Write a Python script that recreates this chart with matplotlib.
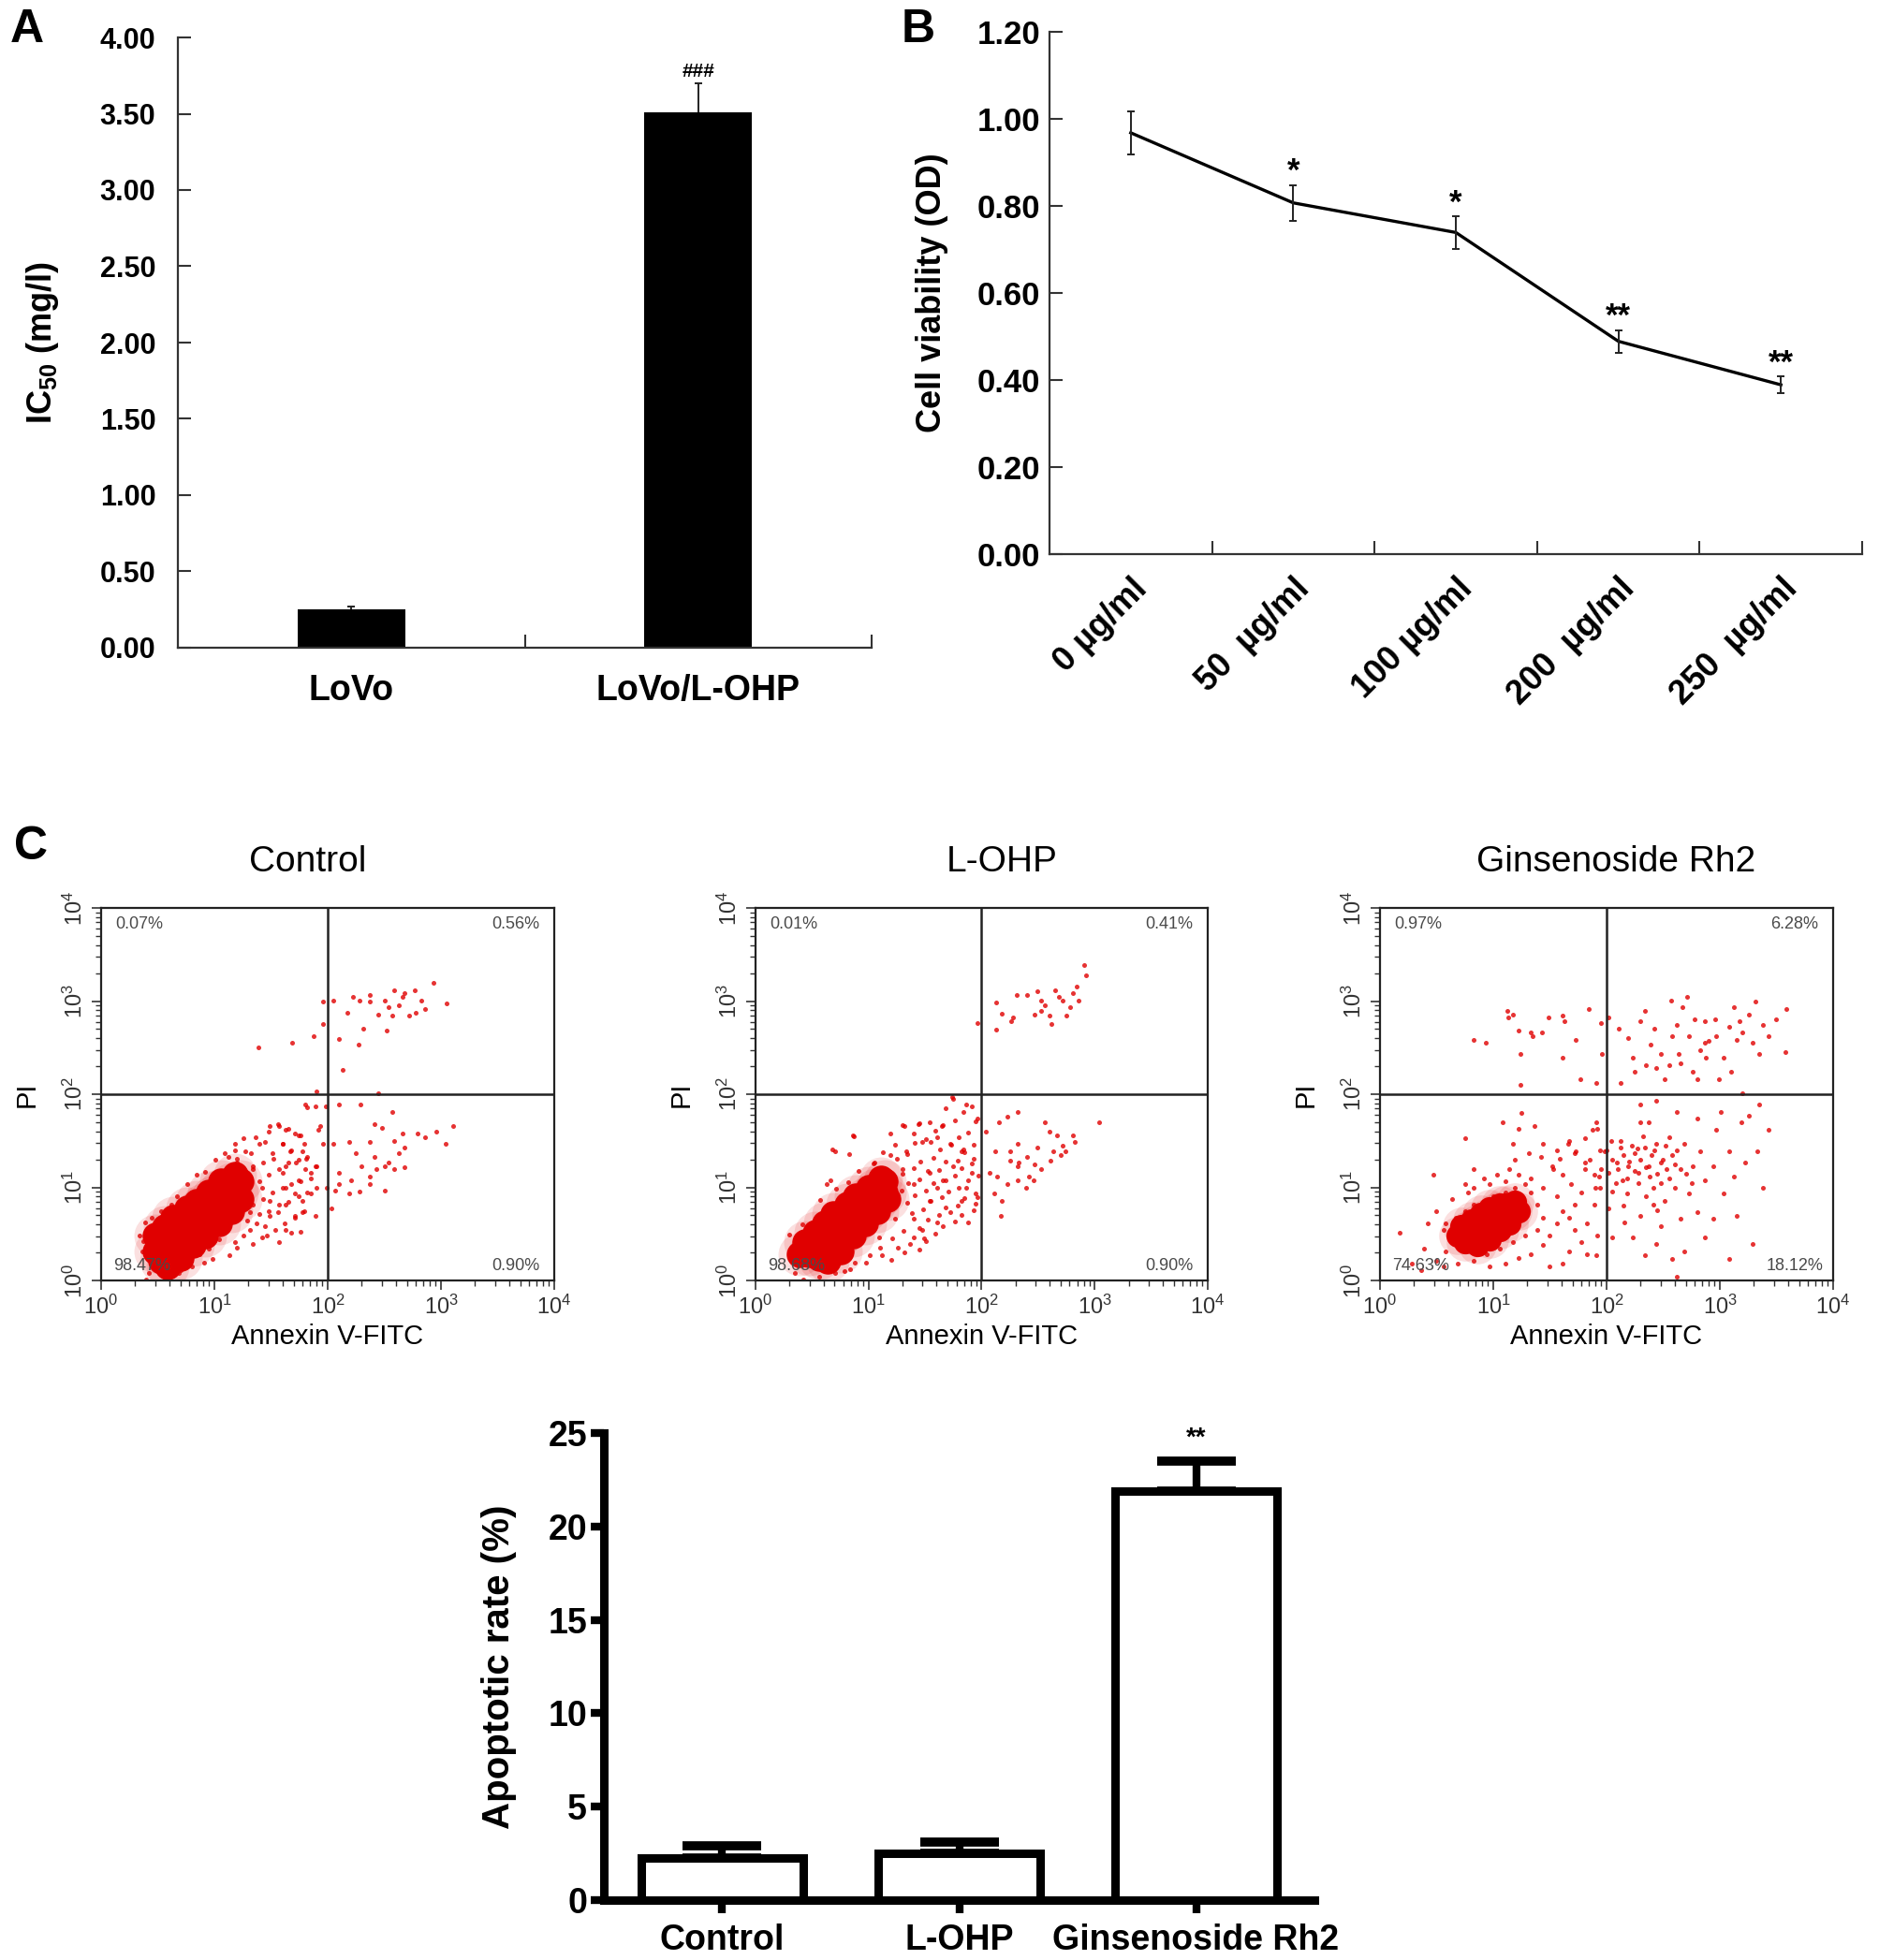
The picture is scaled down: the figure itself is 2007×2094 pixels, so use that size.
import matplotlib
matplotlib.use("Agg")
import matplotlib.pyplot as plt
import numpy as np
from matplotlib import font_manager

plt.rcParams["font.family"] = ["Liberation Sans", "DejaVu Sans"]
plt.rcParams["mathtext.fontset"] = "custom"
plt.rcParams["mathtext.rm"] = "Liberation Sans"
plt.rcParams["mathtext.bf"] = "Liberation Sans:bold"
plt.rcParams["mathtext.it"] = "Liberation Sans:italic"

installed = {f.name for f in font_manager.fontManager.ttflist}
NARROW = "Liberation Sans Narrow" if "Liberation Sans Narrow" in installed else "Liberation Sans"

# ---- panel A: IC50
ic50_groups = ["LoVo", "LoVo/L-OHP"]
ic50_mean = [0.25, 3.51]
ic50_err = [0.02, 0.19]
ic50_marks = ["", "###"]

# ---- panel B: cell viability
dose_labels = ["0 µg/ml", "50  µg/ml", "100 µg/ml", "200  µg/ml", "250  µg/ml"]
viability = [0.968, 0.807, 0.739, 0.489, 0.389]
viability_err = [0.050, 0.041, 0.037, 0.026, 0.019]
viability_marks = ["", "*", "*", "**", "**"]

# ---- panel C: flow cytometry, events as log10 of intensity (Annexin V-FITC, PI)
flow_titles = ["Control", "L-OHP", "Ginsenoside Rh2"]
flow_pcts = [["0.07%", "0.56%", "98.47%", "0.90%"],
             ["0.01%", "0.41%", "98.68%", "0.90%"],
             ["0.97%", "6.28%", "74.63%", "18.12%"]]

# dense (saturated) part of each population
ctrl_core = [(0.48, 0.31), (0.56, 0.41), (0.64, 0.51), (0.73, 0.61), (0.81, 0.71), (0.90, 0.81),
             (0.98, 0.89), (1.06, 0.97), (1.15, 1.04), (1.23, 1.07), (0.53, 0.21), (0.62, 0.31),
             (0.70, 0.41), (0.78, 0.51), (0.87, 0.61), (0.95, 0.71), (1.04, 0.81), (1.12, 0.87),
             (1.20, 0.94), (0.48, 0.48), (0.56, 0.57), (0.64, 0.67), (0.76, 0.77), (0.84, 0.84),
             (0.95, 0.94), (1.06, 1.07), (1.18, 1.14), (0.59, 0.15), (0.70, 0.24), (0.81, 0.38),
             (0.92, 0.48), (1.04, 0.61), (1.15, 0.74), (1.23, 0.87)]
ctrl_dots = [(1.96, 2.99), (2.05, 3.01), (2.17, 2.87), (2.22, 3.05), (2.28, 3.01), (2.37, 3.07),
             (2.37, 2.99), (2.50, 3.01), (2.54, 2.93), (2.59, 3.12), (2.66, 3.05), (2.68, 3.09),
             (2.72, 2.84), (2.77, 3.12), (2.78, 2.87), (2.83, 3.01), (2.86, 2.91), (2.93, 3.20),
             (3.05, 2.97), (2.63, 2.95), (2.57, 2.84), (2.45, 2.85), (2.31, 2.70), (2.27, 2.53),
             (2.52, 2.68), (2.10, 2.59), (2.13, 2.26), (1.96, 2.75), (1.88, 2.62), (1.69, 2.55),
             (1.39, 2.50),
             (1.80, 1.89), (1.89, 1.87), (1.98, 1.87), (2.10, 1.89), (2.29, 1.89), (2.45, 2.01),
             (2.57, 1.81), (2.41, 1.68), (2.48, 1.64), (3.11, 1.66), (2.96, 1.60), (3.04, 1.47),
             (2.86, 1.54), (2.79, 1.58), (2.66, 1.58), (2.59, 1.50), (2.68, 1.43), (2.63, 1.37),
             (2.54, 1.27), (2.50, 1.23), (2.59, 1.20), (2.68, 1.22), (2.41, 1.33), (2.43, 1.20),
             (2.37, 1.12), (2.30, 1.23), (2.21, 1.08), (2.10, 1.04), (2.19, 0.93), (2.07, 0.96),
             (2.03, 0.77), (2.28, 0.95), (2.50, 0.96), (2.37, 1.04), (2.05, 1.47), (2.19, 1.49),
             (1.89, 1.23), (1.92, 1.62), (1.99, 1.00), (2.10, 1.16), (2.25, 1.37), (2.37, 1.49),
             (1.81, 1.31), (1.89, 0.69),
             (1.49, 1.66), (1.56, 1.68), (1.63, 1.62), (1.71, 1.58), (1.76, 1.56), (1.36, 1.54),
             (1.45, 1.49), (1.60, 1.47), (1.67, 1.39), (1.78, 1.39), (1.72, 1.27), (1.63, 1.23),
             (1.60, 1.16), (1.80, 1.20), (1.85, 1.16), (1.74, 1.08), (1.63, 1.00), (1.71, 0.93),
             (1.85, 0.93), (1.78, 0.85), (1.63, 0.81), (1.56, 0.73), (1.71, 0.69), (1.78, 0.73),
             (1.63, 0.54), (1.76, 0.52), (1.45, 0.58), (1.42, 0.46), (1.31, 0.54), (1.34, 0.39),
             (1.20, 0.35), (1.13, 0.27), (0.98, 0.23), (0.91, 0.19), (0.80, 0.15), (0.69, 0.08),
             (0.55, 0.04), (0.40, 0.01), (0.39, 0.62), (0.44, 0.50), (0.37, 0.42), (1.42, 1.00),
             (1.49, 0.85), (1.27, 1.39), (1.20, 1.31), (1.13, 1.23), (1.34, 1.23), (1.52, 1.31),
             (1.31, 0.73), (1.49, 0.69),
             (1.32, 1.37), (1.40, 1.47), (1.48, 1.60), (1.57, 1.66), (1.65, 1.63), (1.74, 1.56),
             (1.79, 1.47), (1.68, 1.40), (1.60, 1.47), (1.51, 1.37), (1.43, 1.27), (1.34, 1.20),
             (1.40, 1.07), (1.48, 1.14), (1.57, 1.20), (1.65, 1.27), (1.74, 1.30), (1.82, 1.33),
             (1.90, 1.23), (1.85, 1.10), (1.76, 1.07), (1.68, 1.04), (1.60, 1.00), (1.51, 0.94),
             (1.43, 0.87), (1.34, 0.81), (1.40, 0.71), (1.48, 0.74), (1.57, 0.81), (1.65, 0.84),
             (1.74, 0.90), (1.82, 0.94), (1.79, 0.74), (1.71, 0.67), (1.62, 0.61), (1.54, 0.54),
             (1.46, 0.48), (1.37, 0.61), (1.29, 0.64), (1.20, 0.67), (1.12, 0.57), (1.04, 0.44),
             (0.95, 0.34), (0.87, 0.28), (0.78, 0.18), (0.70, 0.11), (1.26, 0.48), (1.18, 0.41),
             (1.57, 0.41), (1.68, 0.51), (1.90, 1.00), (1.96, 1.47), (1.93, 1.66), (1.82, 1.86),
             (1.90, 2.03), (1.26, 1.53), (1.18, 1.47), (1.12, 1.33), (1.20, 1.27), (1.29, 1.00),
             (0.42, 0.08), (0.36, 0.31), (0.34, 0.48), (0.45, 0.67), (0.53, 0.74), (0.62, 0.81),
             (0.67, 0.90), (0.76, 1.04), (0.84, 1.14), (0.92, 1.17), (1.01, 1.30), (1.09, 1.37),
             (1.18, 1.40)]

lohp_core = [(0.47, 0.28), (0.56, 0.38), (0.64, 0.48), (0.72, 0.57), (0.81, 0.67), (0.89, 0.77),
             (0.97, 0.87), (1.06, 0.97), (1.14, 1.07), (0.56, 0.24), (0.64, 0.34), (0.72, 0.44),
             (0.81, 0.54), (0.89, 0.64), (0.97, 0.74), (1.06, 0.84), (1.14, 0.94), (0.44, 0.41),
             (0.53, 0.51), (0.61, 0.61), (0.69, 0.71), (0.81, 0.81), (0.89, 0.90), (1.00, 1.00),
             (1.11, 1.10), (0.64, 0.21), (0.75, 0.31), (0.86, 0.48), (0.97, 0.61), (1.08, 0.74),
             (1.17, 0.87), (0.39, 0.28)]
lohp_dots = [(2.13, 2.98), (2.18, 2.86), (2.26, 2.78), (2.31, 3.07), (2.40, 3.07), (2.49, 3.11),
             (2.53, 3.01), (2.47, 2.85), (2.56, 2.95), (2.60, 2.84), (2.62, 2.75), (2.65, 3.12),
             (2.68, 3.05), (2.72, 3.01), (2.75, 2.84), (2.78, 2.93), (2.81, 3.09), (2.84, 3.16),
             (2.86, 3.01), (2.91, 3.39), (2.92, 3.28), (2.13, 2.69), (1.96, 2.76), (2.28, 2.82),
             (2.53, 2.89),
             (2.04, 1.60), (2.15, 1.70), (2.23, 1.76), (2.32, 1.81), (2.12, 1.39), (2.25, 1.39),
             (2.32, 1.47), (2.25, 1.29), (2.33, 1.27), (2.40, 1.33), (2.47, 1.25), (2.56, 1.70),
             (2.60, 1.60), (2.67, 1.56), (2.72, 1.45), (2.81, 1.56), (2.82, 1.49), (3.04, 1.70),
             (2.61, 1.29), (2.53, 1.20), (2.42, 1.12), (2.32, 1.08), (2.23, 1.04), (2.14, 1.12),
             (2.07, 1.16), (2.11, 0.93), (2.18, 0.85), (2.17, 0.69), (2.32, 1.23), (2.63, 1.39),
             (2.74, 1.39), (2.46, 1.08), (2.39, 1.00), (2.70, 1.35), (2.49, 1.43),
             (1.75, 1.95), (1.86, 1.89), (1.96, 1.74), (1.65, 1.66), (1.54, 1.70), (1.44, 1.68),
             (1.32, 1.66), (1.19, 1.58), (1.40, 1.58), (1.47, 1.49), (1.61, 1.54), (1.72, 1.47),
             (1.82, 1.39), (1.93, 1.31), (1.91, 1.16), (1.86, 1.00), (1.96, 0.89), (1.75, 1.23),
             (1.68, 1.08), (1.61, 1.00), (1.82, 0.85), (1.72, 0.73), (1.61, 0.62), (1.54, 0.85),
             (1.47, 0.54), (1.40, 0.46), (1.37, 0.39), (1.51, 0.42), (1.26, 0.35), (1.12, 0.27),
             (0.98, 0.19), (0.84, 0.12), (0.70, 0.08), (0.56, 0.04), (0.42, 0.01), (0.35, 0.08),
             (0.32, 0.31), (0.35, 0.42), (0.63, 1.04), (0.86, 1.56), (0.70, 1.39), (1.19, 1.35),
             (1.05, 1.27), (1.33, 1.39), (1.30, 1.20), (1.40, 1.04), (1.54, 1.16), (1.23, 0.66),
             (1.09, 0.46), (1.40, 0.66),
             (1.25, 1.31), (1.34, 1.36), (1.41, 1.48), (1.51, 1.52), (1.59, 1.61), (1.66, 1.67),
             (1.76, 1.72), (1.84, 1.81), (1.91, 1.87), (1.30, 1.15), (1.40, 1.21), (1.46, 1.28),
             (1.57, 1.32), (1.63, 1.41), (1.73, 1.46), (1.80, 1.54), (1.88, 1.59), (1.95, 1.71),
             (1.29, 0.96), (1.35, 1.05), (1.45, 1.09), (1.52, 1.18), (1.62, 1.19), (1.68, 1.28),
             (1.79, 1.29), (1.85, 1.38), (1.93, 1.46), (1.34, 0.83), (1.41, 0.91), (1.51, 0.96),
             (1.57, 1.05), (1.66, 1.08), (1.76, 1.13), (1.82, 1.21), (1.91, 1.26), (1.38, 0.72),
             (1.48, 0.76), (1.55, 0.85), (1.65, 0.89), (1.71, 0.95), (1.80, 0.99), (1.88, 1.08),
             (1.97, 1.13), (1.45, 0.56), (1.52, 0.65), (1.62, 0.70), (1.68, 0.78), (1.79, 0.80),
             (1.85, 0.88), (1.95, 0.93), (1.49, 0.45), (1.59, 0.50), (1.66, 0.58), (1.76, 0.63),
             (1.82, 0.70), (1.93, 0.75), (1.31, 0.53), (1.21, 0.45), (1.10, 0.35), (1.01, 0.27),
             (0.88, 0.19), (0.79, 0.10), (1.45, 0.33), (1.32, 0.30), (1.20, 0.22), (0.83, 1.36),
             (0.68, 1.41), (0.87, 1.55), (0.66, 1.08), (0.37, 0.16), (0.30, 0.49), (0.41, 0.60),
             (0.57, 0.86), (0.71, 0.98), (0.82, 1.06), (0.91, 1.18), (1.04, 1.26), (1.13, 1.38),
             (1.23, 1.46), (1.30, 1.67), (1.45, 1.69), (1.55, 1.49), (1.68, 1.85), (1.74, 1.97),
             (1.84, 1.41), (1.95, 0.82), (1.88, 0.62)]

rh2_core = [(0.69, 0.48), (0.78, 0.54), (0.86, 0.61), (0.94, 0.67), (1.03, 0.74), (1.11, 0.81),
            (1.19, 0.84), (0.75, 0.41), (0.83, 0.48), (0.92, 0.54), (1.00, 0.61), (1.08, 0.67),
            (1.17, 0.74), (0.86, 0.38), (0.97, 0.44), (1.06, 0.54), (1.14, 0.61), (1.22, 0.74),
            (0.72, 0.58), (0.81, 0.64), (0.89, 0.71), (0.97, 0.77), (1.06, 0.81)]
rh2_dots = [(0.83, 2.58), (0.93, 2.55), (1.12, 2.89), (1.17, 2.85), (1.13, 2.82), (1.22, 2.68),
            (1.24, 2.43), (1.33, 2.66), (1.35, 2.62), (1.43, 2.66), (1.49, 2.82), (1.61, 2.84),
            (1.63, 2.78), (1.61, 2.39), (1.73, 2.58), (1.77, 2.16), (1.84, 2.91), (1.91, 2.12),
            (1.95, 2.76), (1.96, 2.43), (1.24, 2.10),
            (2.02, 2.82), (2.11, 2.70), (2.12, 2.12), (2.19, 2.60), (2.23, 2.39), (2.25, 2.24),
            (2.30, 2.78), (2.34, 2.89), (2.39, 2.53), (2.42, 2.70), (2.44, 2.28), (2.48, 2.43),
            (2.51, 2.16), (2.57, 3.01), (2.58, 2.62), (2.62, 2.74), (2.64, 2.43), (2.65, 2.33),
            (2.67, 2.93), (2.71, 3.05), (2.73, 2.62), (2.78, 2.80), (2.80, 2.16), (2.83, 2.47),
            (2.87, 2.55), (2.88, 2.39), (2.90, 2.57), (2.96, 2.80), (2.97, 2.62), (3.03, 2.39),
            (3.10, 2.24), (3.12, 2.93), (3.15, 2.58), (3.17, 2.78), (3.20, 2.66), (3.26, 2.85),
            (3.31, 2.99), (3.35, 2.43), (3.38, 2.74), (3.43, 2.62), (3.50, 2.80), (3.58, 2.45),
            (3.59, 2.91), (2.99, 2.16), (2.76, 2.24), (2.55, 2.31), (2.35, 2.31), (2.87, 2.78),
            (3.08, 2.72), (3.29, 2.55),
            (1.52, 1.23), (1.59, 1.31), (1.66, 1.47), (1.73, 1.39), (1.81, 1.27), (1.88, 1.62),
            (1.91, 1.70), (1.93, 1.12), (1.98, 1.39), (2.02, 1.16), (2.04, 1.50), (2.09, 1.27),
            (2.12, 1.43), (2.14, 1.08), (2.18, 0.93), (2.19, 1.23), (2.25, 1.37), (2.28, 1.16),
            (2.30, 1.70), (2.34, 1.43), (2.37, 1.23), (2.41, 1.00), (2.44, 1.47), (2.48, 1.27),
            (2.51, 0.85), (2.55, 1.54), (2.58, 1.35), (2.60, 1.00), (2.65, 1.20), (2.69, 1.47),
            (2.73, 0.93), (2.76, 1.23), (2.80, 0.73), (2.83, 1.39), (2.87, 1.08), (2.94, 1.23),
            (2.97, 1.62), (3.03, 0.93), (3.08, 1.39), (3.12, 1.12), (3.15, 0.69), (3.19, 1.70),
            (3.22, 1.27), (3.29, 0.39), (3.33, 1.39), (3.38, 1.00), (3.43, 1.62), (3.26, 1.77),
            (3.35, 1.89), (3.01, 1.81), (2.80, 1.74), (2.62, 1.81), (2.37, 1.70), (2.30, 1.89),
            (2.44, 1.93), (3.20, 2.01), (2.23, 0.46), (2.34, 0.27), (2.44, 0.39), (2.58, 0.23),
            (2.69, 0.31), (2.87, 0.46), (3.08, 0.23), (2.05, 0.46), (2.16, 0.62), (2.30, 0.69),
            (2.48, 0.58), (2.65, 0.66), (1.91, 0.27), (2.02, 0.77), (2.62, 0.04), (2.41, 0.81),
            (2.94, 0.66),
            (2.05, 1.30), (2.10, 1.20), (2.15, 1.35), (2.20, 1.28), (2.25, 1.18), (2.30, 1.30),
            (2.35, 1.22), (2.40, 1.35), (2.45, 1.15), (2.50, 1.30), (2.55, 1.10), (2.60, 1.25),
            (2.08, 1.05), (2.18, 1.10), (2.28, 1.05), (2.38, 1.12), (2.48, 1.05), (2.12, 1.50),
            (2.22, 1.45), (2.32, 1.55), (2.42, 1.40), (2.52, 1.45), (2.62, 1.40), (2.00, 1.40),
            (2.05, 0.95), (2.15, 0.80), (2.35, 0.90), (2.45, 0.75), (2.70, 1.15), (2.75, 1.05),
            (1.95, 1.20), (1.90, 1.00), (1.85, 1.30), (2.27, 1.42), (2.53, 1.20),
            (0.47, 1.14), (0.42, 0.61), (0.50, 0.74), (0.56, 0.54), (0.58, 0.31), (0.50, 0.21),
            (0.39, 0.34), (0.28, 0.18), (0.17, 0.51), (0.36, 0.11), (0.56, 0.15), (0.69, 0.18),
            (0.83, 0.21), (0.94, 0.28), (1.06, 0.34), (1.17, 0.41), (1.28, 0.48), (1.39, 0.54),
            (1.44, 0.67), (1.39, 0.81), (1.33, 0.94), (1.28, 1.04), (1.19, 1.00), (1.11, 0.94),
            (1.00, 0.90), (0.92, 0.84), (0.83, 0.81), (0.75, 0.74), (0.67, 0.67), (0.58, 0.61),
            (0.78, 0.94), (0.83, 1.00), (0.97, 1.04), (1.11, 1.07), (1.22, 1.14), (1.33, 1.10),
            (1.44, 1.00), (1.56, 0.90), (1.61, 0.74), (1.56, 0.61), (1.50, 0.48), (1.44, 0.38),
            (1.33, 0.28), (1.22, 0.24), (1.11, 0.18), (0.97, 0.15), (1.19, 1.30), (1.31, 1.37),
            (1.42, 1.33), (1.53, 1.20), (1.61, 1.14), (1.69, 1.04), (1.78, 0.94), (1.72, 0.81),
            (1.67, 0.67), (1.72, 0.54), (1.78, 0.41), (1.83, 0.61), (1.89, 0.81), (1.94, 1.00),
            (1.89, 1.14), (1.81, 1.20), (1.72, 1.37), (1.67, 1.50), (1.81, 1.53), (1.92, 1.63),
            (1.94, 1.40), (1.92, 0.48), (1.83, 0.28), (1.67, 0.31), (1.61, 0.18), (1.50, 0.15),
            (0.83, 1.20), (0.75, 1.04), (0.64, 0.87), (1.17, 1.47), (1.08, 1.70), (1.25, 1.80),
            (0.75, 1.53), (1.36, 1.66), (1.14, 1.20), (1.03, 1.14), (0.92, 1.10), (1.22, 1.63),
            (1.44, 1.47), (1.56, 1.40)]

flow_core = [ctrl_core, lohp_core, rh2_core]
flow_dots = [ctrl_dots, lohp_dots, rh2_dots]

# ---- panel D: apoptotic rate
apop_groups = ["Control", "L-OHP", "Ginsenoside Rh2"]
apop_rate = [2.27, 2.50, 21.9]
apop_err = [0.65, 0.62, 1.60]
apop_marks = ["", "", "**"]

W, H = 2008, 2094
RED = "#e00000"


def box(x0, y0, x1, y1):
    return [x0 / W, 1 - y1 / H, (x1 - x0) / W, (y1 - y0) / H]


fig = plt.figure(figsize=(W / 100, H / 100), dpi=100)

# ---------- A
ax = fig.add_axes(box(190, 40, 931, 692))
xa = np.arange(len(ic50_groups))
ax.bar(xa, ic50_mean, width=0.31, color="black", zorder=2)
ax.errorbar(xa, ic50_mean, yerr=ic50_err, fmt="none", ecolor="#222222",
            elinewidth=1.4, capsize=3, capthick=1.4, zorder=1)
for i, m in enumerate(ic50_marks):
    if m:
        ax.text(xa[i], ic50_mean[i] + ic50_err[i] + 0.02, m, ha="center", va="bottom",
                fontsize=15, fontweight="bold", family=NARROW)
ax.set_xlim(-0.5, 1.5)
ax.set_ylim(0, 4)
ax.set_yticks(np.arange(0, 4.01, 0.5))
ax.set_yticklabels([f"{v:.2f}" for v in np.arange(0, 4.01, 0.5)], fontsize=22, fontweight="bold")
ax.set_xticks(xa + 0.5)
ax.set_xticklabels([])
ax.set_xticks(xa, minor=True)
ax.set_xticklabels(ic50_groups, minor=True, fontsize=27, fontweight="bold", family=NARROW)
ax.tick_params(which="major", direction="in", length=10, width=1.5, color="#333333", pad=17)
ax.tick_params(which="minor", length=0, pad=20)
ax.set_ylabel(r"IC$_\mathbf{50}$ (mg/l)", fontsize=26, fontweight="bold", labelpad=30)
for s in ["top", "right"]:
    ax.spines[s].set_visible(False)
for s in ["left", "bottom"]:
    ax.spines[s].set_linewidth(1.6)
    ax.spines[s].set_color("#333333")

# ---------- B
ax = fig.add_axes(box(1121, 34, 1989, 592))
xb = np.arange(len(dose_labels))
ax.plot(xb, viability, color="black", lw=2.4, zorder=3)
ax.errorbar(xb, viability, yerr=viability_err, fmt="none", ecolor="#222222",
            elinewidth=1.4, capsize=3, capthick=1.4, zorder=3)
for i, m in enumerate(viability_marks):
    if m:
        ax.text(xb[i], viability[i] + viability_err[i] - 0.005, m, ha="center", va="bottom",
                fontsize=25, fontweight="bold")
ax.set_xlim(-0.5, 4.5)
ax.set_ylim(0, 1.2)
ax.set_yticks(np.arange(0, 1.21, 0.2))
ax.set_yticklabels([f"{v:.2f}" for v in np.arange(0, 1.21, 0.2)], fontsize=25, fontweight="bold")
ax.set_xticks(xb + 0.5)
ax.set_xticklabels([])
ax.set_xticks(xb, minor=True)
ax.set_xticklabels(dose_labels, minor=True, rotation=45, ha="right", rotation_mode="anchor",
                   fontsize=26, fontweight="bold")
ax.tick_params(which="major", direction="in", length=10, width=1.5, color="#333333", pad=7)
ax.tick_params(which="minor", length=0, pad=14)
ax.set_ylabel("Cell viability (OD)", fontsize=26, fontweight="bold", labelpad=22)
for s in ["top", "right"]:
    ax.spines[s].set_visible(False)
for s in ["left", "bottom"]:
    ax.spines[s].set_linewidth(1.6)
    ax.spines[s].set_color("#333333")

# ---------- C
flow_boxes = [(108, 970, 592, 1368), (807, 970, 1290, 1368), (1474, 970, 1958, 1368)]
title_x = [0.455, 0.545, 0.52]
pct_pos = [(0.085, 0.955), (0.915, 0.955), (0.09, 0.04), (0.915, 0.04)]
core_size = [420, 420, 330]
for k in range(3):
    ax = fig.add_axes(box(*flow_boxes[k]))
    core = np.array(flow_core[k])
    dots = np.array(flow_dots[k])
    # halo of densely packed events around the saturated core
    ax.scatter(10 ** core[:, 0], 10 ** core[:, 1], s=core_size[k] * 2.6, c=RED, lw=0,
               alpha=0.12, zorder=2)
    ax.scatter(10 ** core[:, 0], 10 ** core[:, 1], s=core_size[k], c=RED, lw=0, zorder=2)
    ax.scatter(10 ** dots[:, 0], 10 ** dots[:, 1], s=13, c=RED, lw=0, alpha=0.8, zorder=2)
    ax.set_xscale("log")
    ax.set_yscale("log")
    ax.set_xlim(1, 1e4)
    ax.set_ylim(1, 1e4)
    ax.axvline(100, color="#222222", lw=1.8, zorder=3)
    ax.axhline(100, color="#222222", lw=1.8, zorder=3)
    for s in ax.spines.values():
        s.set_linewidth(1.6)
        s.set_color("#222222")
    ax.tick_params(which="major", direction="out", length=7, width=1.2, color="#333333",
                   labelsize=17, labelcolor="#333333", pad=4)
    ax.tick_params(which="minor", direction="out", length=4, width=1.0, color="#333333")
    ax.tick_params(axis="y", labelrotation=90)
    for lab in ax.get_yticklabels():
        lab.set_va("center")
    for (px, py), txt in zip(pct_pos, flow_pcts[k]):
        ax.text(px, py, txt, transform=ax.transAxes, ha="center", va="center",
                fontsize=13, color="#4a4a4a", zorder=4)
    ax.set_title(flow_titles[k], fontsize=28, x=title_x[k], pad=28)
    ax.set_xlabel("Annexin V-FITC", fontsize=21, labelpad=4)
    ax.set_ylabel("PI", fontsize=21, labelpad=18)

# ---------- D
ax = fig.add_axes(box(645, 1531, 1404, 2030))
xd = np.arange(len(apop_groups))
ax.bar(xd, apop_rate, width=0.68, facecolor="white", edgecolor="black", linewidth=6.5, zorder=2)
ax.errorbar(xd, apop_rate, yerr=[np.zeros(len(apop_err)), apop_err], fmt="none",
            ecolor="black", elinewidth=6, capsize=30, capthick=7, zorder=3)
for i, m in enumerate(apop_marks):
    if m:
        ax.text(xd[i], apop_rate[i] + apop_err[i] + 0.55, m, ha="center", va="bottom",
                fontsize=20, fontweight="bold")
ax.set_xlim(-0.5, 2.5)
ax.set_ylim(0, 25)
ax.set_yticks(np.arange(0, 26, 5))
ax.set_yticklabels([str(v) for v in range(0, 26, 5)], fontsize=27, fontweight="bold")
ax.set_xticks(xd)
ax.set_xticklabels(apop_groups, fontsize=27, fontweight="bold")
ax.tick_params(direction="out", length=10, width=6, pad=3)
ax.tick_params(axis="x", pad=8)
ax.set_ylabel("Apoptotic rate (%)", fontsize=29, fontweight="bold", labelpad=24)
for s in ["top", "right"]:
    ax.spines[s].set_visible(False)
for s in ["left", "bottom"]:
    ax.spines[s].set_linewidth(6.5)

# panel letters
for letter, (px, py) in zip("ABC", [(29, 32), (981, 32), (33, 905)]):
    fig.text(px / W, 1 - py / H, letter, fontsize=36, fontweight="bold", ha="center", va="center")

fig.savefig("out.png", dpi=100)
